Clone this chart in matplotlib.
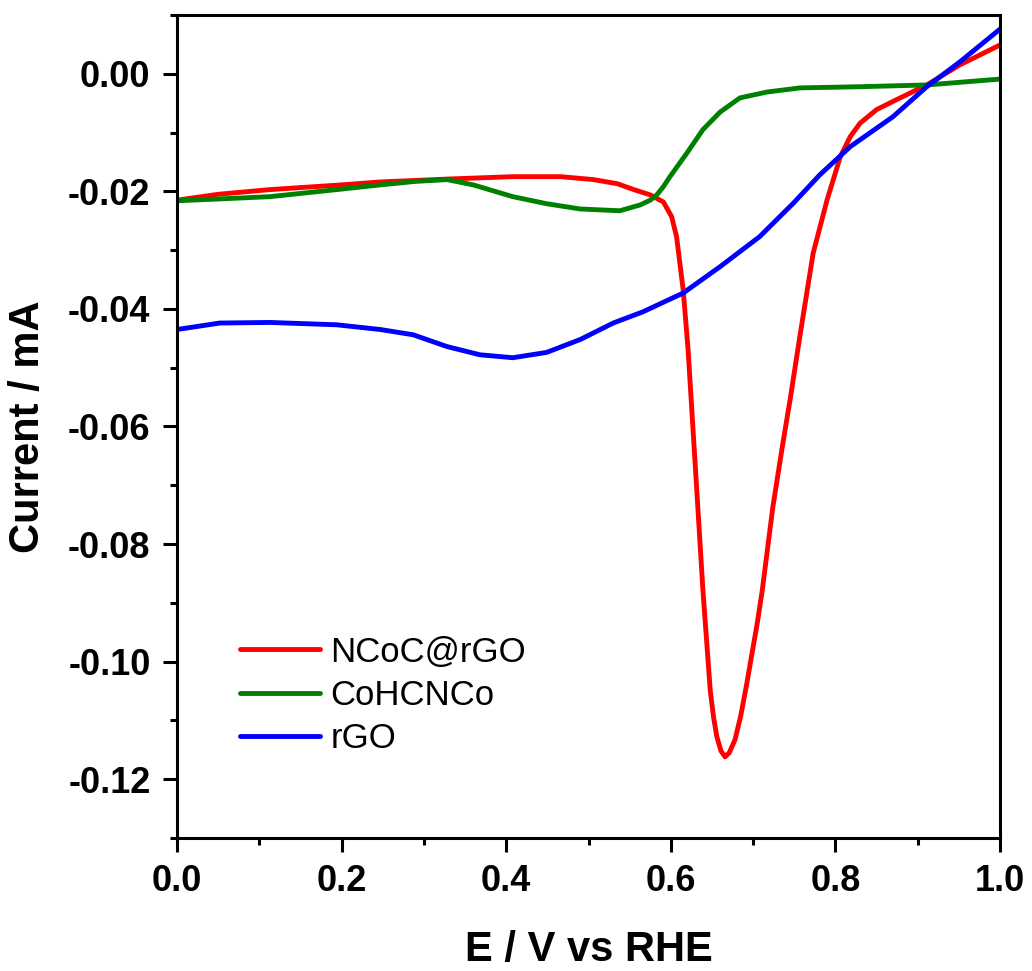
import matplotlib
matplotlib.use("Agg")
import matplotlib.pyplot as plt
from matplotlib.ticker import MultipleLocator, FormatStrFormatter

plt.rcParams['font.family'] = ['Liberation Sans', 'DejaVu Sans']

# NCoC@rGO
red_x = [0.0, 0.05, 0.113, 0.2, 0.247, 0.33, 0.408, 0.466, 0.506, 0.535, 0.555, 0.575,
         0.591, 0.601, 0.607, 0.615, 0.621, 0.627, 0.633, 0.639, 0.648, 0.652, 0.656,
         0.661, 0.666, 0.671, 0.678, 0.685, 0.692, 0.705, 0.711, 0.724, 0.736, 0.745,
         0.757, 0.773, 0.79, 0.806, 0.818, 0.830, 0.85, 0.87, 0.911, 0.951, 1.0]
red_y = [-0.0215, -0.0205, -0.0197, -0.0189, -0.0184, -0.0179, -0.0175, -0.0175, -0.0180,
         -0.0187, -0.0197, -0.0206, -0.0218, -0.0243, -0.0277, -0.0367, -0.0469, -0.0605,
         -0.0741, -0.0878, -0.1050, -0.1095, -0.1128, -0.1152, -0.1162, -0.1155, -0.1133,
         -0.1092, -0.1040, -0.0935, -0.0880, -0.0737, -0.0630, -0.0554, -0.0445, -0.0305,
         -0.0214, -0.0141, -0.0107, -0.0084, -0.0061, -0.0047, -0.0019, 0.0015, 0.0049]

# CoHCNCo
green_x = [0.0, 0.05, 0.113, 0.194, 0.247, 0.290, 0.328, 0.36, 0.408, 0.449, 0.49, 0.506,
           0.538, 0.563, 0.575, 0.583, 0.591, 0.599, 0.620, 0.639, 0.660, 0.684, 0.717,
           0.757, 0.830, 0.911, 1.0]
green_y = [-0.0216, -0.0213, -0.0209, -0.0197, -0.0189, -0.0183, -0.0180, -0.0189, -0.0209,
           -0.0221, -0.0230, -0.0231, -0.0233, -0.0223, -0.0215, -0.0206, -0.0192, -0.0175,
           -0.0134, -0.0095, -0.0065, -0.0041, -0.0031, -0.0024, -0.0022, -0.0019, -0.0009]

# rGO
blue_x = [0.0, 0.052, 0.113, 0.194, 0.247, 0.287, 0.328, 0.368, 0.408, 0.449, 0.49, 0.530,
          0.566, 0.615, 0.660, 0.708, 0.749, 0.781, 0.818, 0.870, 0.911, 0.951, 1.0]
blue_y = [-0.0435, -0.0424, -0.0423, -0.0427, -0.0435, -0.0444, -0.0464, -0.0478, -0.0483,
          -0.0474, -0.0452, -0.0424, -0.0405, -0.0373, -0.0328, -0.0277, -0.0220, -0.0172,
          -0.0124, -0.0073, -0.0022, 0.0020, 0.0076]

labels = ["NCoC@rGO", "CoHCNCo", "rGO"]
colors = ["#FF0000", "#008000", "#0000FF"]

fig = plt.figure(figsize=(10.32, 9.71), dpi=100)
ax = fig.add_axes([177/1032, 133/971, 823/1032, 823/971])

lw = 3.5
ax.plot(red_x, red_y, color=colors[0], lw=lw, label=labels[0],
        solid_capstyle='round', solid_joinstyle='round')
ax.plot(green_x, green_y, color=colors[1], lw=lw, label=labels[1],
        solid_capstyle='round', solid_joinstyle='round')
ax.plot(blue_x, blue_y, color=colors[2], lw=lw, label=labels[2],
        solid_capstyle='round', solid_joinstyle='round')

ax.set_xlim(0.0, 1.0)
ax.set_ylim(-0.13, 0.01)
ax.xaxis.set_major_locator(MultipleLocator(0.2))
ax.xaxis.set_minor_locator(MultipleLocator(0.1))
ax.yaxis.set_major_locator(MultipleLocator(0.02))
ax.yaxis.set_minor_locator(MultipleLocator(0.01))
ax.xaxis.set_major_formatter(FormatStrFormatter('%.1f'))
ax.yaxis.set_major_formatter(FormatStrFormatter('%.2f'))

for s in ax.spines.values():
    s.set_linewidth(2.2)
ax.tick_params(which='major', direction='out', length=10, width=2.2, labelsize=26, pad=9,
               top=False, right=False)
ax.tick_params(which='minor', direction='out', length=5, width=2.2, top=False, right=False)
for t in ax.get_xticklabels() + ax.get_yticklabels():
    t.set_fontweight('bold')

ax.set_xlabel("E / V vs RHE", fontsize=30, fontweight='bold')
ax.set_ylabel("Current / mA", fontsize=30, fontweight='bold')
ax.xaxis.set_label_coords(0.5, -0.112)
ax.yaxis.set_label_coords(-0.157, 0.5)

leg = ax.legend(loc='upper left', bbox_to_anchor=(0.0766, 0.246), frameon=False,
                fontsize=25, handlelength=2.3, handletextpad=0.3, labelspacing=0.3,
                borderpad=0, borderaxespad=0)

fig.savefig("out.png", dpi=100)
